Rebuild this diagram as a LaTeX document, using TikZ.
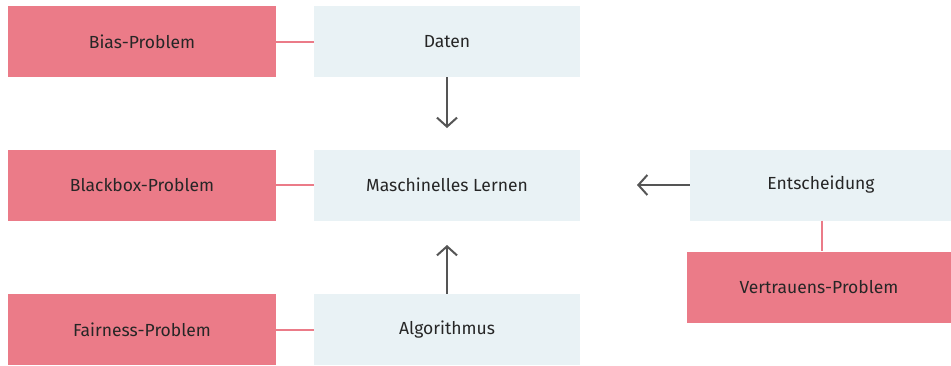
\documentclass[tikz,border=0pt]{standalone}
\usepackage{fontspec}
\setmainfont{Fira Sans}
\usetikzlibrary{arrows.meta}
\definecolor{pinkc}{HTML}{EB7B88}
\definecolor{bluec}{HTML}{E9F2F5}
\definecolor{arrc}{HTML}{555555}
\definecolor{txtc}{HTML}{262626}
\begin{document}
\begin{tikzpicture}[x=1pt,y=-1pt,
  probbox/.style={fill=pinkc,draw=none,minimum width=268pt,minimum height=71pt,inner sep=0pt,font=\fontsize{17.5}{20}\selectfont,text=txtc},
  entbox/.style={fill=bluec,draw=none,minimum width=266pt,minimum height=71pt,inner sep=0pt,font=\fontsize{17.5}{20}\selectfont,text=txtc},
  link/.style={draw=pinkc,line width=2pt},
  flow/.style={draw=arrc,line width=2pt,-{Straight Barb[length=9pt,width=20pt,line width=2pt]}}]
\useasboundingbox (0,0) rectangle (951,365);
\node[probbox] (bias) at (142,41.5) {Bias-Problem};
\node[entbox] (daten) at (447,41.5) {Daten};
\node[probbox] (black) at (142,185) {Blackbox-Problem};
\node[entbox] (ml) at (447,185) {Maschinelles Lernen};
\node[probbox] (fair) at (142,329.5) {Fairness-Problem};
\node[entbox] (algo) at (447,329.5) {Algorithmus};
\node[entbox,minimum width=262pt] (ent) at (821,185) {Entscheidung};
\node[probbox,minimum width=264pt] (vert) at (819,287) {Vertrauens-Problem};
\coordinate (dend) at (447,128);
\coordinate (aend) at (447,245);
\coordinate (eend) at (637,185);
\draw[link] (bias) -- (daten);
\draw[link] (black) -- (ml);
\draw[link] (fair) -- (algo);
\draw[link] (ent.south -| 822,0) -- (vert.north -| 822,0);
\draw[flow] (daten.south) -- (dend);
\draw[flow] (algo.north) -- (aend);
\draw[flow] (ent.west) -- (eend);
\end{tikzpicture}
\end{document}
